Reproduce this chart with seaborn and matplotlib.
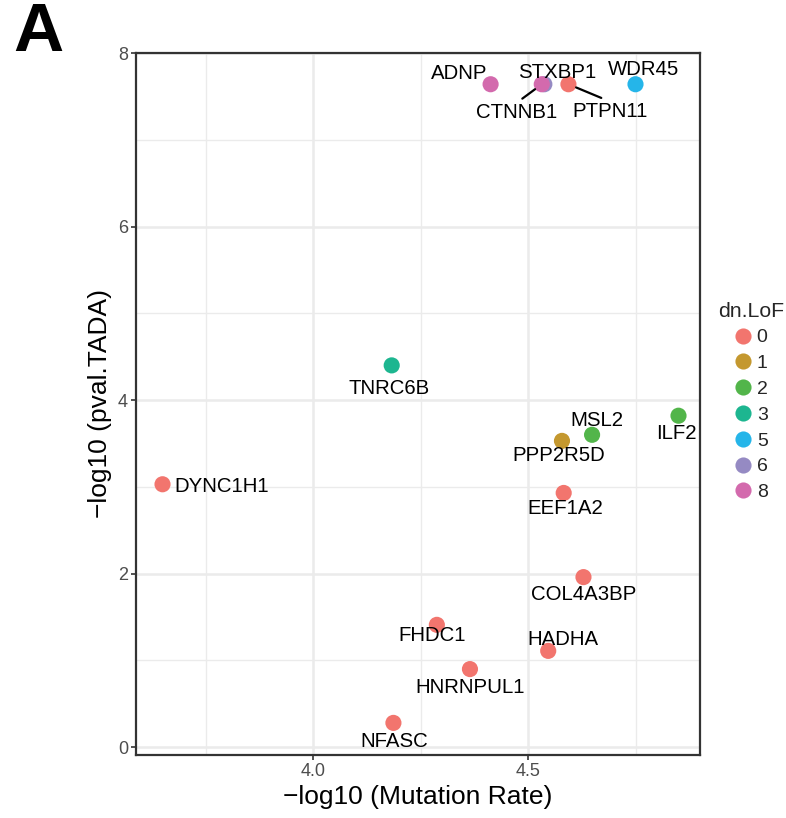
import matplotlib
matplotlib.use("Agg")
import matplotlib.pyplot as plt
import seaborn as sns
import pandas as pd
from matplotlib.ticker import MultipleLocator

# Gene-level summary: mutation rate, TADA p-value and de novo LoF counts
genes = ["DYNC1H1", "TNRC6B", "PPP2R5D", "MSL2", "ILF2", "EEF1A2", "COL4A3BP",
         "FHDC1", "HADHA", "HNRNPUL1", "NFASC", "ADNP", "STXBP1", "CTNNB1",
         "PTPN11", "WDR45"]
neg_log_mut_rate = [3.650, 4.183, 4.579, 4.649, 4.850, 4.583, 4.629,
                    4.288, 4.547, 4.365, 4.187, 4.413, 4.538, 4.532,
                    4.594, 4.750]
neg_log_pval = [3.03, 4.40, 3.53, 3.60, 3.82, 2.93, 1.96,
                1.41, 1.11, 0.90, 0.28, 7.64, 7.64, 7.64,
                7.64, 7.64]
dn_lof = [0, 3, 1, 2, 2, 0, 0, 0, 0, 0, 0, 8, 6, 8, 0, 5]

lof_levels = ["0", "1", "2", "3", "5", "6", "8"]
lof_colors = ["#F2756E", "#C4982F", "#52B54A", "#1DB690", "#25B5E9", "#958AC3", "#D36AAD"]

# label offsets (pixels) relative to each point; (dx, dy, halign, with_segment)
label_offsets = {
    "DYNC1H1": (12, -2, "left", False),
    "TNRC6B": (-3, -23, "center", False),
    "PPP2R5D": (-3, -15, "center", False),
    "MSL2": (5, 14, "center", False),
    "ILF2": (-2, -18, "center", False),
    "EEF1A2": (2, -16, "center", False),
    "COL4A3BP": (0, -17, "center", False),
    "FHDC1": (-5, -11, "center", False),
    "HADHA": (15, 11, "center", False),
    "HNRNPUL1": (0, -18, "center", False),
    "NFASC": (1, -19, "center", False),
    "ADNP": (-31, 11, "center", False),
    "STXBP1": (13, 12, "center", False),
    "CTNNB1": (-25, -28, "center", True),
    "PTPN11": (42, -27, "center", True),
    "WDR45": (8, 15, "center", False),
}

df = pd.DataFrame({
    "gene": genes,
    "mut": neg_log_mut_rate,
    "pval": neg_log_pval,
    "dn.LoF": [str(v) for v in dn_lof],
})

sns.set_theme(style="white")
plt.rcParams["font.family"] = ["Liberation Sans", "DejaVu Sans"]

W, H = 786, 818
fig = plt.figure(figsize=(W / 100, H / 100), dpi=100)
ax = fig.add_axes([135.6 / W, 1 - 755 / H, (700 - 135.6) / W, (755 - 53) / H])

sns.scatterplot(data=df, x="mut", y="pval", hue="dn.LoF", hue_order=lof_levels,
                palette=lof_colors, s=135, edgecolor="none", linewidth=0,
                ax=ax, zorder=3)

for g, xv, yv in zip(genes, neg_log_mut_rate, neg_log_pval):
    dx, dy, ha, seg = label_offsets[g]
    kw = {}
    if seg:
        kw["arrowprops"] = dict(arrowstyle="-", color="black", lw=1.6,
                                shrinkA=1, shrinkB=6, relpos=(0.5, 1.0))
    ax.annotate(g, xy=(xv, yv), xytext=(dx, dy), textcoords="offset pixels",
                ha=ha, va="center", fontsize=14.7, color="black", zorder=4, **kw)

ax.set_xlim(3.5874, 4.9)
ax.set_ylim(-0.09, 8.0)
ax.xaxis.set_major_locator(MultipleLocator(0.5))
ax.xaxis.set_minor_locator(MultipleLocator(0.25))
ax.yaxis.set_major_locator(MultipleLocator(2))
ax.yaxis.set_minor_locator(MultipleLocator(1))
ax.set_xticks([4.0, 4.5])
ax.set_xticklabels(["4.0", "4.5"])
ax.grid(which="major", color="#EBEBEB", lw=1.8, zorder=0)
ax.grid(which="minor", color="#EBEBEB", lw=1.0, zorder=0)
ax.set_axisbelow(True)
for sp in ax.spines.values():
    sp.set_color("#333333")
    sp.set_linewidth(1.6)
ax.tick_params(which="major", length=3.5, width=1.2, color="#333333",
               labelsize=13, labelcolor="#4D4D4D", pad=2, left=True, bottom=True)
ax.tick_params(which="minor", length=0)

ax.set_xlabel("\u2212log10 (Mutation Rate)", fontsize=19, color="black", labelpad=4)
ax.set_ylabel("\u2212log10 (pval.TADA)", fontsize=19, color="black", labelpad=4)

handles, labels = ax.get_legend_handles_labels()
if ax.legend_:
    ax.legend_.remove()
leg = fig.legend(handles, labels, title="dn.LoF", loc="upper center",
                 bbox_to_anchor=(751 / W, 1 - 292 / H), frameon=False,
                 fontsize=14, title_fontsize=15.3, markerscale=1.0,
                 labelspacing=0.42, handletextpad=0.25, borderpad=0,
                 handlelength=0.9)
leg._legend_box.align = "center"

fig.text(13 / W, 1 - 33 / H, "A", fontsize=50, fontweight="bold",
         ha="left", va="center", color="black")

fig.savefig("out.png", dpi=100)
